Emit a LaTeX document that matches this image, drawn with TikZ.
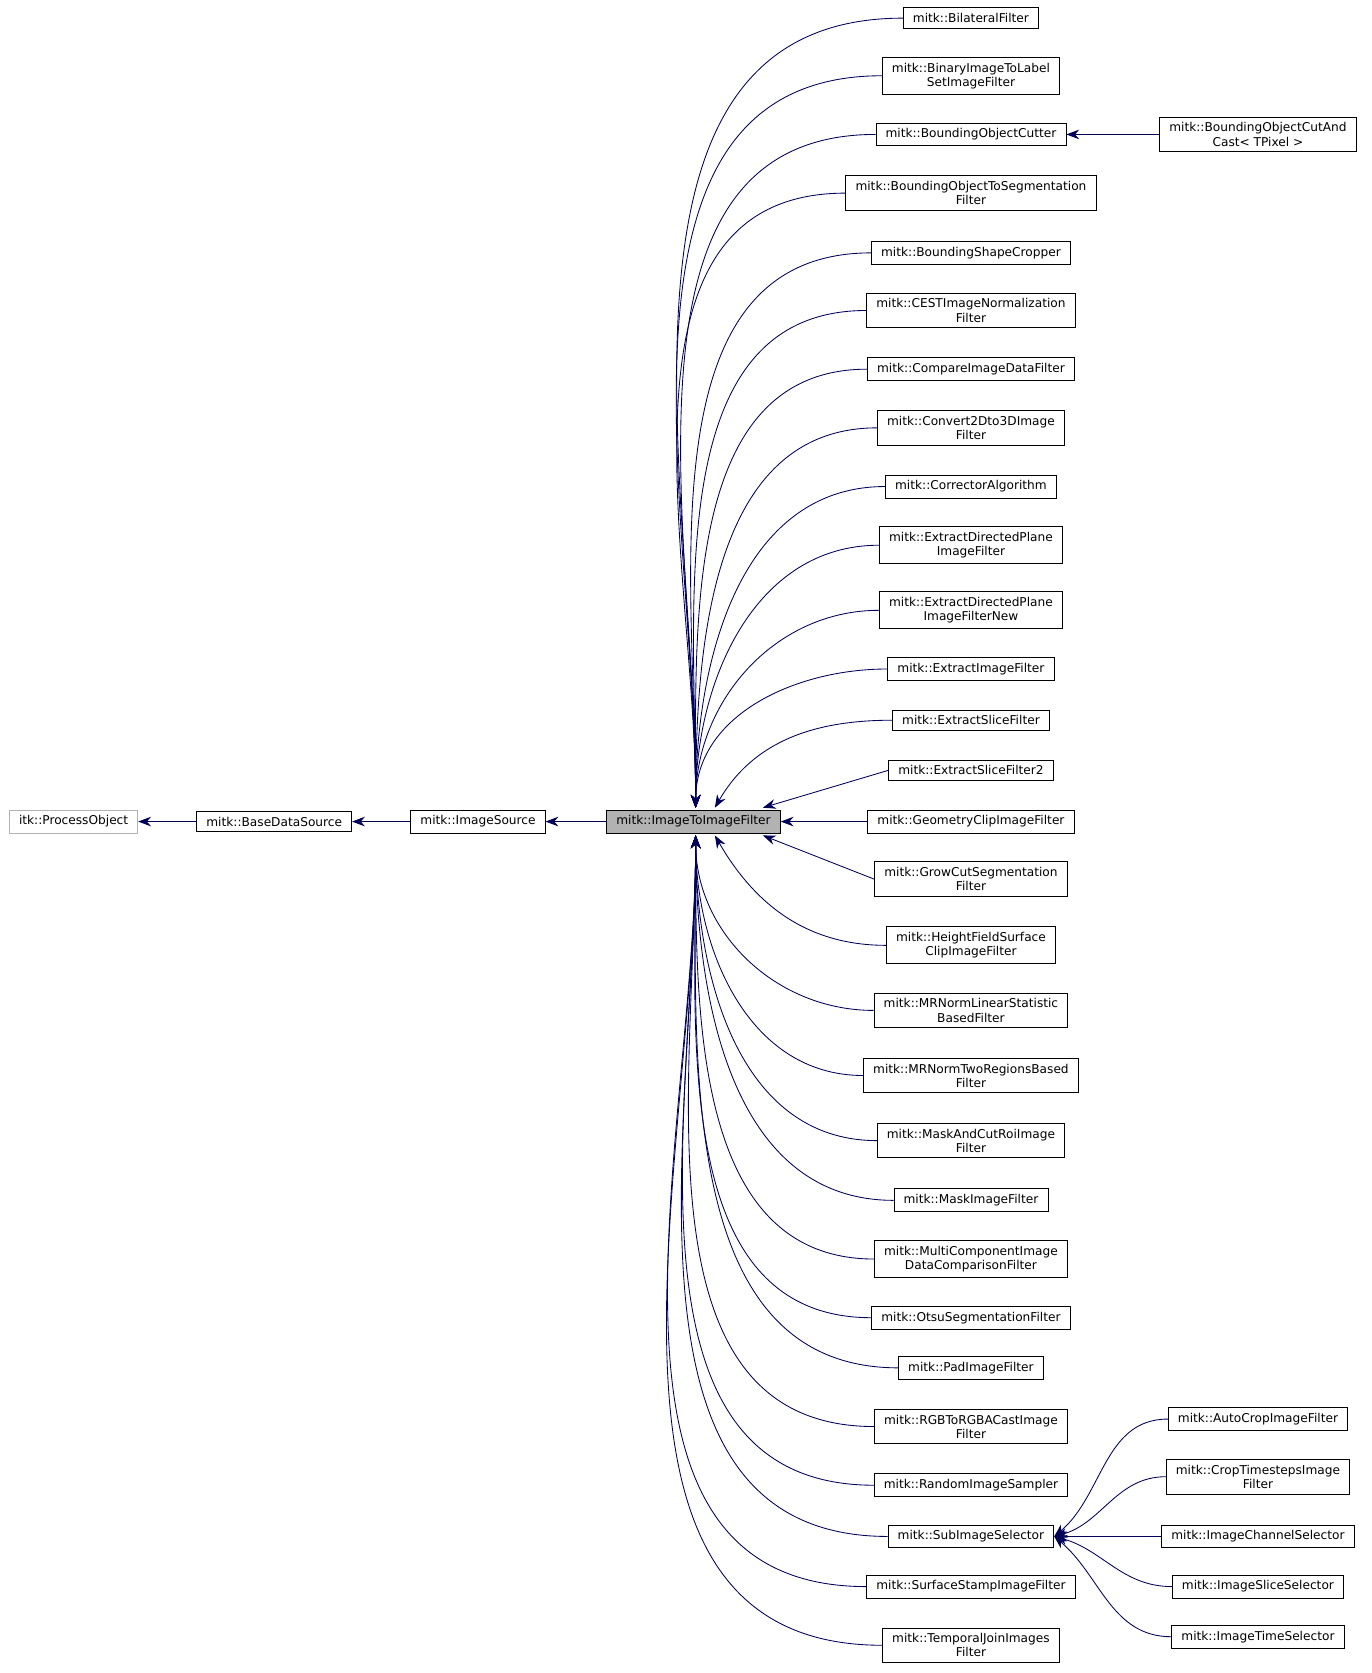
\documentclass[tikz,border=0pt]{standalone}
\usepackage{fontspec}
\setmainfont{DejaVu Sans}
\usetikzlibrary{arrows.meta}

\tikzset{
  cls/.style={draw, fill=white, inner xsep=4.5pt, inner ysep=2.6pt, align=center, font=\fontsize{5.7}{6.6}\selectfont, line width=0.4pt},
  ext/.style={cls, draw=black!30},
  cur/.style={cls, fill=black!30},
  edge/.style={draw=blue!35!black, line width=0.4pt, -{Stealth[length=6pt,width=4.5pt]}}
}

\begin{document}
\begin{tikzpicture}[x=0.5pt, y=-0.5pt]
    \useasboundingbox (0,0) rectangle (1285,1568);

    % base chain
    \node [ext] (po) at (69,770) {itk::ProcessObject};
    \node [cls] (bds) at (257,770) {mitk::BaseDataSource};
    \node [cls] (is) at (448,770) {mitk::ImageSource};
    \node [cur] (itif) at (650,770) {mitk::ImageToImageFilter};
    \draw [edge] (bds.west) -- (po.east);
    \draw [edge] (is.west) -- (bds.east);
    \draw [edge] (itif.west) -- (is.east);

    % subclasses
    \foreach \n/\y/\t in {
        bil/17/{mitk::BilateralFilter},
        bil2/71/{mitk::BinaryImageToLabel\\SetImageFilter},
        boc/126/{mitk::BoundingObjectCutter},
        bots/181/{mitk::BoundingObjectToSegmentation\\Filter},
        bsc/237/{mitk::BoundingShapeCropper},
        cest/291/{mitk::CESTImageNormalization\\Filter},
        cid/346/{mitk::CompareImageDataFilter},
        c23/401/{mitk::Convert2Dto3DImage\\Filter},
        ca/456/{mitk::CorrectorAlgorithm},
        edp/511/{mitk::ExtractDirectedPlane\\ImageFilter},
        edpn/572/{mitk::ExtractDirectedPlane\\ImageFilterNew},
        eif/627/{mitk::ExtractImageFilter},
        esf/675/{mitk::ExtractSliceFilter},
        esf2/722/{mitk::ExtractSliceFilter2},
        gcif/770/{mitk::GeometryClipImageFilter},
        gcs/824/{mitk::GrowCutSegmentation\\Filter},
        hfs/886/{mitk::HeightFieldSurface\\ClipImageFilter},
        mrl/947/{mitk::MRNormLinearStatistic\\BasedFilter},
        mrt/1008/{mitk::MRNormTwoRegionsBased\\Filter},
        mac/1069/{mitk::MaskAndCutRoiImage\\Filter},
        mif/1125/{mitk::MaskImageFilter},
        mcd/1180/{mitk::MultiComponentImage\\DataComparisonFilter},
        osf/1235/{mitk::OtsuSegmentationFilter},
        pif/1282/{mitk::PadImageFilter},
        rgb/1337/{mitk::RGBToRGBACastImage\\Filter},
        ris/1392/{mitk::RandomImageSampler},
        sis/1440/{mitk::SubImageSelector},
        ssi/1487/{mitk::SurfaceStampImageFilter},
        tji/1542/{mitk::TemporalJoinImages\\Filter}}
        \node [cls] (\n) at (910,\y) {\t};

    % second level
    \node [cls] (boca) at (1179,126) {mitk::BoundingObjectCutAnd\\Cast< TPixel >};
    \foreach \n/\y/\t in {
        acif/1330/{mitk::AutoCropImageFilter},
        ctif/1384/{mitk::CropTimestepsImage\\Filter},
        ics/1440/{mitk::ImageChannelSelector},
        iss/1487/{mitk::ImageSliceSelector},
        its/1534/{mitk::ImageTimeSelector}}
        \node [cls] (\n) at (1179,\y) {\t};

    % edges into ImageToImageFilter
    \coordinate (top) at (652,757);
    \coordinate (bot) at (652,783);
    \foreach \n in {bil,bil2,boc,bots,bsc,cest,cid,c23,ca,edp,edpn,eif}
        \draw [edge] (\n.west) to[out=180, in=90] (top);
    \foreach \n in {mrl,mrt,mac,mif,mcd,osf,pif,rgb,ris,sis,ssi,tji}
        \draw [edge] (\n.west) to[out=180, in=-90] (bot);
    \draw [edge] (esf.west) to[out=180, in=60] (670,757);
    \draw [edge] (esf2.west) -- (715,757);
    \draw [edge] (gcif.west) -- (itif.east);
    \draw [edge] (gcs.west) -- (715,783);
    \draw [edge] (hfs.west) to[out=180, in=-60] (670,783);

    \draw [edge] (boca.west) -- (boc.east);
    \draw [edge] (acif.west) to[out=180, in=40] (sis.east);
    \draw [edge] (ctif.west) to[out=180, in=15] (sis.east);
    \draw [edge] (ics.west) -- (sis.east);
    \draw [edge] (iss.west) to[out=180, in=-15] (sis.east);
    \draw [edge] (its.west) to[out=180, in=-40] (sis.east);
\end{tikzpicture}
\end{document}
